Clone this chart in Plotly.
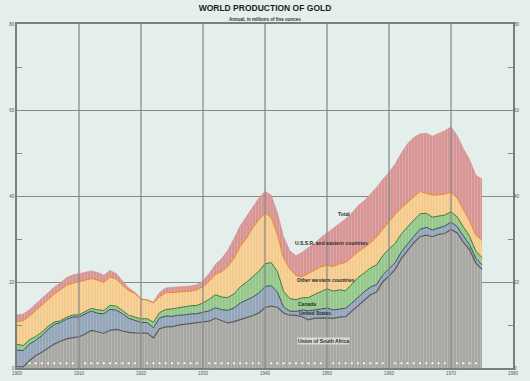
import plotly.graph_objects as go

years = list(range(1900, 1976))

south_africa = [0.35, 0.24, 1.69, 2.86, 3.66, 4.71, 5.56, 6.22, 6.78, 7.05, 7.23, 7.9, 8.75, 8.43, 8.03, 8.77, 8.97, 8.6, 8.27, 8.17, 8.16,
                8.13, 7.01, 9.15, 9.57, 9.6, 9.96, 10.12, 10.35, 10.41, 10.72, 10.88, 11.56, 11.01, 10.48, 10.77, 11.34, 11.73, 12.16, 12.82, 14.05,
                14.41, 14.12, 12.8, 12.28, 12.22, 11.93, 11.2, 11.58, 11.7, 11.66, 11.52, 11.82, 11.94, 13.24, 14.6, 15.9, 17.03, 17.66, 20.07, 21.38,
                22.94, 25.49, 27.43, 29.14, 30.54, 30.9, 30.53, 31.09, 31.28, 32.2, 31.39, 29.25, 27.49, 24.39, 22.94]

united_states = [3.83, 3.81, 3.87, 3.56, 3.89, 4.27, 4.57, 4.37, 4.57, 4.82, 4.66, 4.69, 4.52, 4.3, 4.57, 4.89, 4.48, 4.05, 3.31, 2.92, 2.48,
                 2.42, 2.36, 2.5, 2.52, 2.41, 2.33, 2.2, 2.23, 2.21, 2.29, 2.4, 2.45, 2.54, 2.94, 3.18, 3.76, 4.1, 4.31, 4.59, 4.87,
                 4.75, 3.49, 1.38, 0.95, 0.95, 1.57, 2.1, 2.0, 1.99, 2.29, 1.98, 1.89, 1.96, 1.84, 1.88, 1.83, 1.79, 1.76, 1.6, 1.67,
                 1.55, 1.54, 1.45, 1.46, 1.7, 1.8, 1.58, 1.54, 1.74, 1.74, 1.5, 1.45, 1.18, 1.13, 1.05]

canada = [1.35, 1.17, 1.0, 0.9, 0.8, 0.7, 0.56, 0.4, 0.48, 0.45, 0.49, 0.47, 0.61, 0.8, 0.77, 0.92, 0.93, 0.74, 0.71, 0.77, 0.77,
          0.93, 1.26, 1.23, 1.53, 1.74, 1.75, 1.85, 1.89, 1.93, 2.1, 2.7, 3.04, 2.95, 2.97, 3.28, 3.75, 4.1, 4.73, 5.09, 5.33,
          5.35, 4.84, 3.65, 2.92, 2.7, 2.83, 3.07, 3.53, 4.12, 4.44, 4.39, 4.47, 4.06, 4.37, 4.54, 4.38, 4.43, 4.57, 4.48, 4.63,
          4.47, 4.18, 4.0, 3.8, 3.6, 3.3, 2.99, 2.74, 2.55, 2.41, 2.24, 2.08, 1.95, 1.7, 1.65]

other_western = [5.3, 5.8, 5.5, 6.0, 6.2, 6.3, 6.5, 7.2, 7.4, 7.4, 7.7, 7.4, 6.9, 6.9, 6.5, 6.6, 6.3, 5.9, 5.7, 5.5, 4.6,
                 4.3, 4.5, 3.7, 3.9, 3.8, 3.7, 3.6, 3.4, 3.6, 3.8, 4.2, 4.7, 5.9, 7.2, 8.3, 9.4, 10.2, 11.3, 12.0, 11.8,
                 10.5, 8.6, 7.7, 6.9, 5.6, 4.9, 5.6, 5.7, 5.7, 5.5, 5.7, 6.0, 6.6, 6.3, 6.0, 5.9, 5.8, 6.5, 6.1, 6.5,
                 6.8, 6.0, 5.7, 5.4, 5.2, 4.7, 5.1, 4.9, 4.9, 4.5, 4.4, 4.0, 3.6, 3.7, 4.0]

ussr_eastern = [1.5, 1.5, 1.5, 1.5, 1.5, 1.5, 1.6, 1.6, 1.8, 1.9, 1.9, 1.8, 1.8, 1.8, 1.7, 1.5, 1.3, 1.0, 0.6, 0.3, 0.1,
                0.1, 0.2, 1.0, 1.1, 1.2, 1.2, 1.2, 1.2, 1.2, 1.4, 1.8, 2.3, 3.0, 3.8, 4.5, 4.8, 5.0, 5.0, 5.0, 5.0,
                5.2, 5.0, 5.0, 4.2, 4.6, 5.7, 5.9, 6.2, 6.8, 7.5, 8.9, 9.5, 10.1, 10.3, 10.7, 10.9, 11.3, 11.5, 11.6, 11.3,
                11.7, 12.8, 13.6, 13.8, 13.4, 13.9, 13.7, 14.2, 14.7, 15.2, 14.5, 14.2, 14.2, 13.9, 14.3]

decades = [1900, 1910, 1920, 1930, 1940, 1950, 1960, 1970, 1980]
y_ticks = [0, 20, 40, 60, 80]
y_minor = [10, 30, 50, 70]
dot_years = [y for y in range(1902, 1975) if y % 10 != 0]

series = [
    ("Union of South Africa", south_africa, "#a7a7a3", "#c3c3bf", "#5a5a5a", 1.2),
    ("United States", united_states, "#95a6b9", "#b6c2d0", "#3e4e66", 1.0),
    ("Canada", canada, "#95c78b", "#b8dcb0", "#3c7d37", 1.0),
    ("Other western countries", other_western, "#f4ca8d", "#f9e0b8", "#ef8a1e", 1.0),
    ("U.S.S.R. and eastern countries", ussr_eastern, "#d69494", "#e7b7b7", "#cc8888", 0.6),
]

FONT = "Liberation Sans"
fig = go.Figure()
for name, vals, bg, fg, lc, lw in series:
    fig.add_trace(go.Scatter(
        x=years, y=vals, name=name, mode="lines", stackgroup="one",
        line=dict(color=lc, width=lw),
        fillcolor=bg,
        fillpattern=dict(shape="|", size=3, solidity=0.35, fgcolor=fg, bgcolor=bg),
        hoverinfo="skip",
    ))

fig.add_trace(go.Scatter(
    x=dot_years, y=[1.1] * len(dot_years), mode="markers", yaxis="y2",
    marker=dict(size=2.2, color="white"), hoverinfo="skip", showlegend=False,
))

grid_col = "#8a8a8a"
for d in decades[1:-1]:
    fig.add_shape(type="line", xref="x", yref="paper", x0=d, x1=d, y0=0, y1=1,
                  line=dict(color=grid_col, width=1.3), layer="above")

annots = [
    ("Total", 1952.8, 35.9),
    ("U.S.S.R. and eastern countries", 1950.7, 29.1),
    ("Other western countries", 1949.9, 20.5),
    ("Canada", 1946.7, 14.95),
    ("United States", 1948.0, 12.7),
    ("Union of South Africa", 1949.4, 6.3),
]
for txt, ax, ay in annots:
    fig.add_annotation(x=ax, y=ay, xref="x", yref="y", text="<b>" + txt + "</b>",
                       showarrow=False, font=dict(family=FONT, size=5, color="#2a2a2a"),
                       bgcolor="rgba(255,255,255,0.55)" if txt == "Union of South Africa" else None,
                       borderpad=0)

fig.add_annotation(x=0.5, y=1.026, xref="paper", yref="paper",
                   text="<b>Annual, in millions of fine ounces</b>", showarrow=False,
                   font=dict(family=FONT, size=4.5, color="#333333"))

axis_line = dict(showline=True, linecolor="#7d7d7d", linewidth=1.5, zeroline=False, automargin=False)

fig.update_layout(
    width=530, height=381,
    margin=dict(l=17, r=17, t=24, b=13, autoexpand=False),
    paper_bgcolor="#e4efeb",
    plot_bgcolor="#e4efeb",
    showlegend=False,
    font=dict(family=FONT, color="#444444"),
    title=dict(text="<b>WORLD PRODUCTION OF GOLD</b>", x=0.5, xanchor="center",
               y=1 - 8 / 381, yanchor="middle", yref="container",
               font=dict(family=FONT, size=8.5, color="#1e1e1e")),
    xaxis=dict(range=[1900, 1980], tickvals=decades, ticktext=[str(d) for d in decades],
               tickfont=dict(size=4.5, color="#555555"), ticks="", showgrid=False,
               mirror=True, **axis_line),
    yaxis=dict(range=[0, 80], tickvals=y_ticks, ticktext=[str(v) for v in y_ticks],
               tickfont=dict(size=4.5, color="#555555"), ticks="", showgrid=True,
               gridcolor=grid_col, gridwidth=1.3, mirror=True,
               minor=dict(tickvals=y_minor, ticks="inside", ticklen=5, tickcolor=grid_col,
                          tickwidth=1, showgrid=False),
               **axis_line),
    yaxis2=dict(range=[0, 80], overlaying="y", side="right", tickvals=y_ticks,
                ticktext=[str(v) for v in y_ticks], tickfont=dict(size=4.5, color="#555555"),
                ticks="", showgrid=False, showline=False, zeroline=False, automargin=False,
                minor=dict(tickvals=y_minor, ticks="inside", ticklen=5, tickcolor=grid_col,
                           tickwidth=1, showgrid=False)),
)

fig.write_html("out.html", config={"displayModeBar": False},
               post_script="document.body.style.margin='0';document.body.style.overflow='hidden';")
